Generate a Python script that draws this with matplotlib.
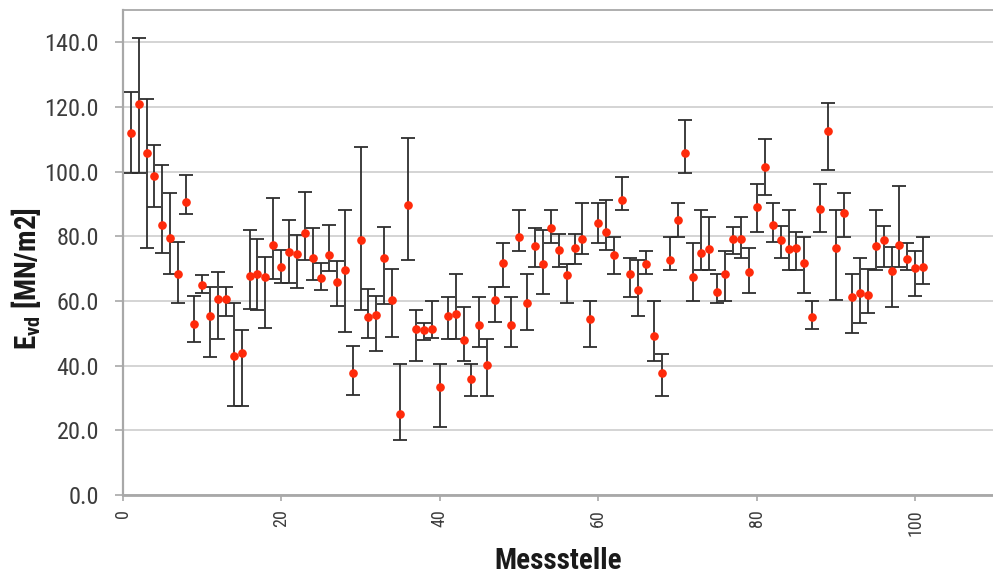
import numpy as np
import matplotlib
matplotlib.use("Agg")
import matplotlib.pyplot as plt
from matplotlib import font_manager
from matplotlib.ticker import FormatStrFormatter

# Measurement points and their E_vd values with min/max range
messstelle = list(range(1, 102))
evd = [112.0, 121.0, 105.9, 98.6, 83.4, 79.5, 68.5, 90.6, 53.0, 65.1,
       55.3, 60.5, 60.5, 43.1, 43.9, 67.7, 68.4, 67.4, 77.2, 70.4,
       75.1, 74.4, 81.1, 73.3, 67.0, 74.1, 65.8, 69.5, 37.7, 79.0,
       55.0, 55.7, 73.3, 60.4, 25.1, 89.7, 51.4, 51.1, 51.4, 33.3,
       55.3, 56.0, 47.8, 35.8, 52.7, 40.3, 60.4, 71.8, 52.7, 79.9,
       59.4, 77.1, 71.5, 82.5, 75.7, 68.1, 76.4, 79.2, 54.5, 84.2,
       81.4, 74.1, 91.3, 68.5, 63.5, 71.5, 49.1, 37.7, 72.6, 85.2,
       105.9, 67.4, 74.9, 76.1, 62.8, 68.4, 79.2, 79.2, 68.9, 89.1,
       101.3, 83.4, 78.9, 76.1, 76.5, 71.9, 55.0, 88.4, 112.5, 76.5,
       87.3, 61.2, 62.4, 61.8, 76.9, 78.9, 69.2, 77.4, 73.1, 70.1,
       70.5]
evd_max = [124.7, 141.3, 122.4, 108.2, 102.0, 93.3, 78.3, 98.9, 61.7, 67.9,
           64.4, 69.1, 64.4, 59.4, 51.1, 82.1, 79.2, 73.6, 91.9, 75.9,
           85.2, 80.3, 93.7, 82.6, 71.8, 83.6, 72.3, 88.1, 46.0, 107.7,
           63.7, 61.7, 82.9, 69.9, 40.6, 110.3, 57.1, 53.2, 60.1, 40.6,
           61.3, 68.4, 58.2, 40.6, 61.3, 48.2, 64.4, 78.0, 61.3, 88.1,
           68.2, 82.6, 82.1, 88.1, 80.8, 71.3, 80.8, 90.2, 60.1, 90.2,
           91.1, 79.9, 98.5, 73.3, 72.6, 75.4, 60.1, 43.7, 79.9, 90.2,
           116.0, 78.0, 88.1, 86.0, 68.4, 75.4, 82.9, 86.0, 76.3, 96.3,
           110.1, 90.3, 83.1, 88.2, 81.2, 79.9, 60.1, 96.2, 121.3, 88.2,
           93.3, 68.5, 73.3, 70.0, 88.2, 83.1, 76.6, 95.6, 78.0, 75.5,
           79.9]
evd_min = [99.7, 99.7, 76.4, 89.0, 74.9, 68.2, 59.4, 86.8, 47.2, 62.5,
           42.7, 48.2, 55.3, 27.4, 27.4, 57.5, 57.3, 51.7, 66.8, 65.6,
           65.6, 64.0, 72.8, 66.6, 63.3, 69.2, 58.6, 50.3, 30.8, 57.1,
           48.6, 44.6, 59.2, 48.8, 17.0, 72.8, 41.5, 47.8, 48.6, 21.0,
           48.3, 48.3, 41.5, 30.5, 45.7, 30.5, 53.4, 64.4, 45.7, 75.6,
           51.1, 70.6, 62.3, 78.0, 70.5, 59.4, 71.3, 74.4, 45.7, 78.0,
           75.7, 68.4, 88.1, 61.3, 55.3, 68.4, 41.5, 30.5, 69.5, 79.9,
           99.5, 60.1, 69.5, 69.5, 59.4, 60.1, 74.4, 73.3, 62.4, 81.2,
           92.8, 78.2, 73.4, 69.7, 69.7, 62.4, 51.2, 81.2, 100.5, 60.3,
           79.9, 50.1, 53.3, 56.3, 69.7, 70.6, 58.3, 70.6, 69.7, 61.5,
           65.4]

x_ticks = [0, 20, 40, 60, 80, 100]
y_ticks = [0, 20, 40, 60, 80, 100, 120, 140]

# Prefer a narrow sans-serif face; fall back to Liberation Sans, set smaller.
narrow_stretch = ("condensed", "semi-condensed", "extra-condensed")
entries = font_manager.fontManager.ttflist
family, stretch, scale = "Liberation Sans", "normal", 0.88
for pref in ("Liberation Sans Narrow", "Roboto Condensed", "Noto Sans",
             "Open Sans", "Roboto", "Lato", "Inter", "DejaVu Sans"):
    hits = [f for f in entries if f.name == pref and
            (f.stretch in narrow_stretch or "Narrow" in f.name
             or "Condensed" in f.name)]
    if hits:
        family, stretch, scale = pref, hits[0].stretch, 1.0
        break

plt.rcParams["font.family"] = [family, "DejaVu Sans"]
plt.rcParams["font.stretch"] = stretch
plt.rcParams["mathtext.fontset"] = "custom"
plt.rcParams["mathtext.rm"] = family
plt.rcParams["mathtext.bf"] = family + ":bold"

fig = plt.figure(figsize=(9.93, 5.75), dpi=100)
ax = fig.add_axes([0.1236, 0.1391, 0.8764, 0.8435])

y = np.array(evd)
yerr = np.vstack([y - np.array(evd_min), np.array(evd_max) - y])

ax.errorbar(messstelle, y, yerr=yerr, fmt="none", ecolor="#2e2e2e",
            elinewidth=1.3, capsize=4.8, capthick=1.3, zorder=3)
ax.plot(messstelle, y, linestyle="none", marker="o", markersize=5.2,
        markerfacecolor="#ff2a0a", markeredgecolor="#ff2a0a", zorder=4)

ax.set_xlim(0, 109.8)
ax.set_ylim(0, 150)
ax.set_xticks(x_ticks)
ax.set_yticks(y_ticks)
ax.yaxis.set_major_formatter(FormatStrFormatter("%.1f"))

ax.grid(axis="y", color="#c9c9c9", linewidth=1.1, zorder=0)
ax.set_axisbelow(True)

for side in ("left", "top", "bottom"):
    ax.spines[side].set_color("#a8a8a8")
ax.spines["left"].set_linewidth(1.6)
ax.spines["top"].set_linewidth(1.3)
ax.spines["bottom"].set_linewidth(2.0)
ax.spines["right"].set_visible(False)

ax.tick_params(axis="y", direction="out", length=6, width=1.2, color="#a8a8a8",
               pad=11, labelsize=17.5 * scale, labelcolor="#3c3c3c")
ax.tick_params(axis="x", direction="out", length=4, width=1.2, color="#a8a8a8",
               pad=6, labelsize=13 * scale, labelcolor="#3c3c3c",
               labelrotation=90)

fig.text(0.5617, 0.011, "Messstelle", fontsize=21 * scale, fontweight="bold",
         color="#1a1a1a", ha="center", va="baseline")
fig.text(0.026, 0.516, r"E$_{\mathbf{vd}}$ [MN/m2]", rotation=90,
         fontsize=21 * scale, fontweight="bold", color="#1a1a1a",
         ha="center", va="center")

fig.savefig("out.png", dpi=100, facecolor="white")
